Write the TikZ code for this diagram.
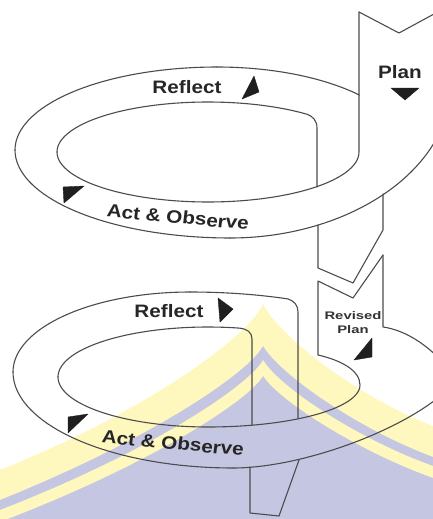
\documentclass[tikz,border=0pt]{standalone}
\usepackage{fontspec}
\setmainfont{Liberation Sans}
\definecolor{wmy}{RGB}{255,248,190}
\definecolor{wmb}{RGB}{197,199,226}
\begin{document}
\begin{tikzpicture}[x=1pt,y=-1pt]
\tikzset{
  ln/.style={draw=black!70, line width=1.1pt, line join=round, line cap=round},
  tri/.style={fill=black!88, draw=black!88, line width=0.4pt, line join=round},
  lbl/.style={font=\bfseries\fontsize{18}{18}\selectfont, text=black!85, xscale=1.15, inner sep=0pt},
  sml/.style={font=\bfseries\fontsize{11}{14}\selectfont, text=black!80, xscale=1.35, inner sep=0pt, align=center}
}
\useasboundingbox (0,0) rectangle (433,519);
\clip (0,0) rectangle (433,519);
\fill[white] (0,0) rectangle (433,519);
% watermark
\fill[wmy] (263,304) .. controls (250,335) and (150,410) .. (0,470) -- (0,519) -- (433,519) -- (433,426) .. controls (360,398) and (280,338) .. (263,304) -- cycle;
\fill[wmb] (263,346) .. controls (250,372) and (150,440) .. (0,500) -- (0,519) -- (433,519) -- (433,457) .. controls (360,430) and (280,375) .. (263,346) -- cycle;
\fill[wmy] (263,360) .. controls (250,385) and (150,452) .. (0,510) -- (0,519) -- (433,519) -- (433,466) .. controls (360,440) and (280,388) .. (263,360) -- cycle;
\fill[wmb] (263,376) .. controls (250,400) and (150,465) .. (0,522) -- (0,519) -- (433,519) -- (433,478) .. controls (360,452) and (280,402) .. (263,376) -- cycle;
% ---- ring 1 ----
\draw[ln] plot[domain=180:270,samples=40,variable=\t] ({217+202*cos(\t)},{150+83*sin(\t)});
\draw[ln] plot[domain=270:318.5,samples=30,variable=\t] ({217+190*cos(\t)},{150+83*sin(\t)});
\draw[ln] plot[domain=90:180,samples=40,variable=\t] ({230+215*cos(\t)},{150+88*sin(\t)});
\draw[ln] (230,238) .. controls (330,238) and (420,190) .. (445,120);
\draw[ln] plot[domain=180:311,samples=50,variable=\t] ({208+151*cos(\t)},{152+50*sin(\t)}) .. controls (312,116) and (317,120) .. (317,128) -- (317,187);
\draw[ln] (359,12) -- plot[domain=0:180,samples=60,variable=\t] ({208+151*cos(\t)},{152+50*sin(\t)});
\draw[ln] (359,12) -- (399,33) -- (445,8);
\draw[ln] (318,225) -- (318,268) -- (353,283) -- (383,230) -- (383,194);
% ---- revised plan strip ----
\draw[ln] (383,255) -- (353,298) -- (318,281) -- (318,355) .. controls (340,360) and (360,370) .. (360,385)
  -- plot[domain=0:90,samples=40,variable=\t] ({208+152*cos(\t)},{385+42*sin(\t)})
  -- plot[domain=90:180,samples=40,variable=\t] ({208+150*cos(\t)},{377+50*sin(\t)});
\draw[ln] (383,255) -- (383,327) .. controls (405,330) and (428,345) .. (445,365);
% ---- ring 2 ----
\draw[ln] plot[domain=180:270,samples=40,variable=\t] ({190+177*cos(\t)},{372+80*sin(\t)});
\draw[ln] plot[domain=270:294,samples=30,variable=\t] ({190+241*cos(\t)},{372+80*sin(\t)}) .. controls (294,301) and (298,305) .. (298,312) -- (298,418);
\draw[ln] plot[domain=180:282,samples=50,variable=\t] ({208+150*cos(\t)},{377+50*sin(\t)}) .. controls (247,329) and (252,332) .. (252,339) -- (252,425);
\draw[ln] plot[domain=90:180,samples=40,variable=\t] ({233+220*cos(\t)},{372+96*sin(\t)});
\draw[ln] (233,468) .. controls (300,468) and (400,432) .. (445,392);
\draw[ln] (250,467) -- (250,513) -- (279,516) -- (299,460);
% ---- arrowheads ----
\fill[tri] (242,99) -- (254,76) -- (259,92) -- cycle;
\fill[tri] (63,187) -- (84,186) -- (64,203) -- cycle;
\fill[tri] (391,88) -- (419,88) -- (405,100) -- cycle;
\fill[tri] (218,298) -- (233,309) -- (220,322) -- cycle;
\fill[tri] (68,417) -- (88,414) -- (68,433) -- cycle;
\fill[tri] (372,338) -- (372,357) -- (354,360) -- cycle;
% ---- labels ----
\node[lbl] (r1) at (187,87) {Reflect};
\node[lbl, rotate=-6] (a1) at (178,217) {Act \& Observe};
\node[lbl] (p) at (400,72) {Plan};
\node[lbl] (r2) at (169,311) {Reflect};
\node[lbl, rotate=-6] (a2) at (173,443) {Act \& Observe};
\node[sml] (rp) at (353,323) {Revised\\Plan};
\end{tikzpicture}
\end{document}
